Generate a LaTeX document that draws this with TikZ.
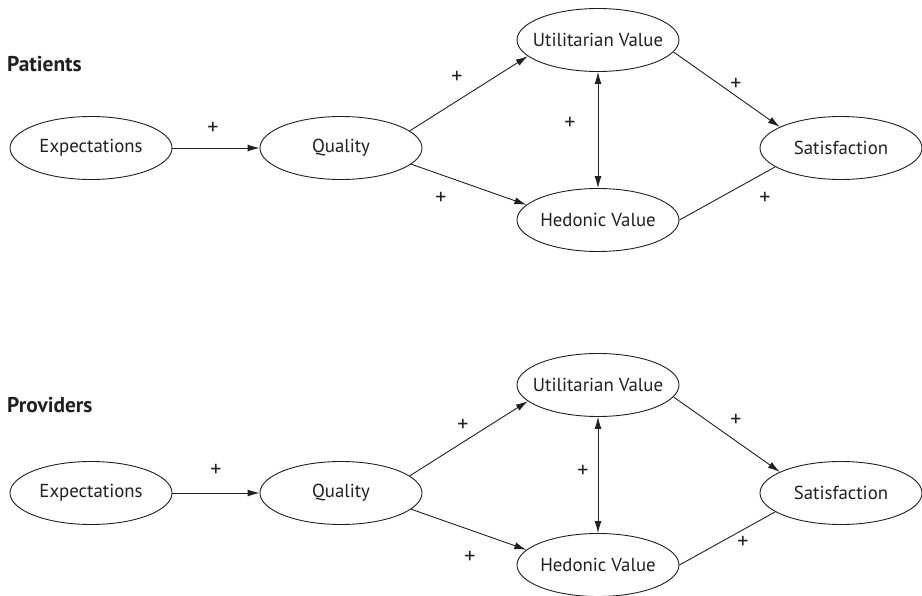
\documentclass[tikz,border=0pt]{standalone}
\usepackage{fontspec}
\setmainfont{PT Sans}
\usetikzlibrary{shapes.geometric,arrows.meta}
\definecolor{ink}{HTML}{231F20}
\newcommand\ztxt[1]{\makebox[0pt][c]{#1}}
\tikzset{
  latent/.style={ellipse, draw=ink, line width=0.9pt, minimum width=162pt, minimum height=63pt, inner sep=0pt, text=ink, font=\fontsize{18.8}{21}\selectfont},
  link/.style={draw=ink, line width=0.9pt},
  arr/.style={link, -{Latex[length=12pt,width=7pt]}},
  darr/.style={link, {Latex[length=12pt,width=7pt]}-{Latex[length=12pt,width=7pt]}},
  sign/.style={inner sep=0pt, text=ink, font=\fontsize{22}{24}\selectfont},
  panel/.style={anchor=base west, inner sep=0pt, text=ink, font=\fontsize{21.4}{24}\selectfont\bfseries}
}
\begin{document}
\begin{tikzpicture}[x=1pt,y=-1pt]
\useasboundingbox (0,0) rectangle (922,596);
\clip (0,0) rectangle (922,596);
% ---------- Patients ----------
\node[panel] (pt) at (7,72) {Patients};
\node[latent] (e1) at (91,148) {\ztxt{Expectations}};
\node[latent] (q1) at (341,148) {\ztxt{Quality}};
\node[latent] (u1) at (598,40) {\ztxt{Utilitarian Value}};
\node[latent] (h1) at (598,220) {\ztxt{Hedonic Value}};
\node[latent] (s1) at (841,148) {\ztxt{Satisfaction}};
\draw[arr] (e1.east) -- (q1.west);
\draw[arr] (q1.14) -- (u1.193);
\draw[arr] (q1.-13) -- (h1.168);
\draw[darr] (u1.south) -- (h1.north);
\draw[arr] (u1.-9) -- (s1.161);
\draw[link] (h1.east) -- (s1.196);
\node[sign] (p1a) at (213,128) {+};
\node[sign] (p1b) at (457,77) {+};
\node[sign] (p1c) at (441,198) {+};
\node[sign] (p1d) at (570,123) {+};
\node[sign] (p1e) at (736,84) {+};
\node[sign] (p1f) at (765,198) {+};
% ---------- Providers ----------
\node[panel] (pv) at (7,412) {Providers};
\node[latent] (e2) at (91,493) {\ztxt{Expectations}};
\node[latent] (q2) at (341,493) {\ztxt{Quality}};
\node[latent] (u2) at (598,385) {\ztxt{Utilitarian Value}};
\node[latent] (h2) at (598,565) {\ztxt{Hedonic Value}};
\node[latent] (s2) at (841,493) {\ztxt{Satisfaction}};
\draw[arr] (e2.east) -- (q2.west);
\draw[arr] (q2.14) -- (u2.193);
\draw[arr] (q2.-13) -- (h2.168);
\draw[darr] (u2.south) -- (h2.north);
\draw[arr] (u2.-9) -- (s2.161);
\draw[link] (h2.east) -- (s2.196);
\node[sign] (p2a) at (216,470) {+};
\node[sign] (p2b) at (463,425) {+};
\node[sign] (p2c) at (470,557) {+};
\node[sign] (p2d) at (583,471) {+};
\node[sign] (p2e) at (736,420) {+};
\node[sign] (p2f) at (743,542) {+};
\end{tikzpicture}
\end{document}
